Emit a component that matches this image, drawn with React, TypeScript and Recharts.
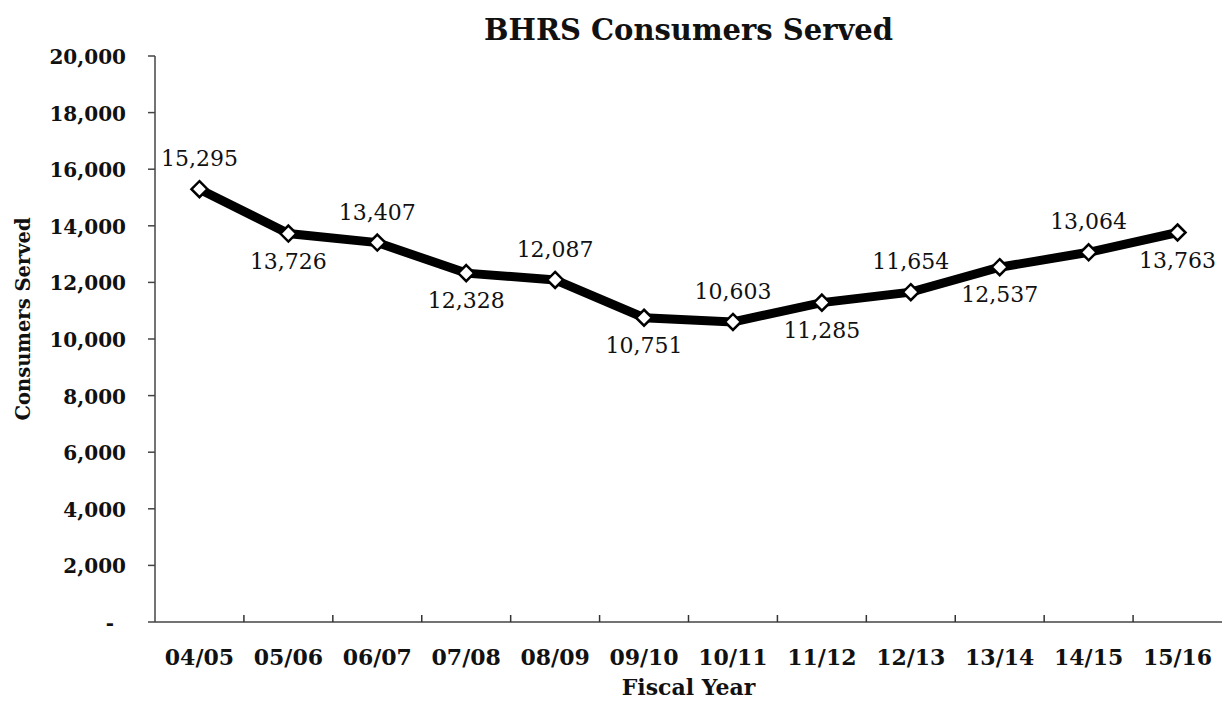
import { LineChart, Line, XAxis, YAxis, LabelList } from "recharts"

const years = ["04/05", "05/06", "06/07", "07/08", "08/09", "09/10", "10/11", "11/12", "12/13", "13/14", "14/15", "15/16"]
const consumers = [15295, 13726, 13407, 12328, 12087, 10751, 10603, 11285, 11654, 12537, 13064, 13763]
const yTicks = [0, 2000, 4000, 6000, 8000, 10000, 12000, 14000, 16000, 18000, 20000]

const data = years.map((year, idx) => ({ idx, year, value: consumers[idx] }))

// label centres on the categories, small upward ticks on the boundaries between them
const xTicks: number[] = []
for (let i = 0; i < years.length; i++) {
  xTicks.push(i)
  if (i < years.length - 1) xTicks.push(i + 0.5)
}

const FONT = "'DejaVu Serif', serif"

function fmt(v: number) {
  return v.toLocaleString("en-US")
}

function XTick(props: any) {
  const { x, y, payload } = props
  const v = payload.value
  if (Number.isInteger(v)) {
    return (
      <text x={x} y={y + 43} textAnchor="middle" fontFamily={FONT} fontWeight="bold" fontSize={22} fill="#111">
        {years[v]}
      </text>
    )
  }
  return <line x1={x} x2={x} y1={y} y2={y - 7} stroke="#333" strokeWidth={1.5} />
}

function YTick(props: any) {
  const { x, y, payload } = props
  const v = payload.value
  return (
    <text x={v === 0 ? x - 12 : x} y={y + 8} textAnchor="end" fontFamily={FONT} fontWeight="bold" fontSize={20} fill="#111">
      {v === 0 ? "-" : fmt(v)}
    </text>
  )
}

function Diamond(props: any) {
  const { cx, cy } = props
  if (cx == null || cy == null) return null
  const r = 8
  return (
    <path
      d={`M${cx},${cy - r} L${cx + r},${cy} L${cx},${cy + r} L${cx - r},${cy} Z`}
      fill="#fff"
      stroke="#000"
      strokeWidth={2.5}
    />
  )
}

function PointLabel(props: any) {
  const { x, y, value, index } = props
  const above = index % 2 === 0
  return (
    <text x={x} y={above ? y - 23 : y + 35} textAnchor="middle" fontFamily={FONT} fontSize={22} fill="#111">
      {fmt(value)}
    </text>
  )
}

export default function App() {
  return (
    <div style={{ position: "absolute", left: 0, top: 0, width: 1222, height: 705, background: "#fff" }}>
      <div
        style={{
          position: "absolute",
          top: 13,
          left: 155,
          width: 1067,
          textAlign: "center",
          fontFamily: FONT,
          fontWeight: "bold",
          fontSize: 29,
          color: "#111",
        }}
      >
        BHRS Consumers Served
      </div>
      <div
        style={{
          position: "absolute",
          top: 674,
          left: 155,
          width: 1067,
          textAlign: "center",
          fontFamily: FONT,
          fontWeight: "bold",
          fontSize: 22,
          color: "#111",
        }}
      >
        Fiscal Year
      </div>
      <div
        style={{
          position: "absolute",
          left: 23,
          top: 319,
          transform: "translate(-50%, -50%) rotate(-90deg)",
          whiteSpace: "nowrap",
          fontFamily: FONT,
          fontWeight: "bold",
          fontSize: 19.5,
          color: "#111",
        }}
      >
        Consumers Served
      </div>
      <LineChart width={1222} height={705} data={data} margin={{ top: 56, right: 0, bottom: 0, left: 0 }}>
        <XAxis
          dataKey="idx"
          type="number"
          domain={[-0.5, 11.5]}
          ticks={xTicks}
          interval={0}
          tick={<XTick />}
          tickLine={false}
          tickSize={0}
          tickMargin={0}
          height={83}
          axisLine={{ stroke: "#444", strokeWidth: 1.5 }}
        />
        <YAxis
          type="number"
          domain={[0, 20000]}
          ticks={yTicks}
          interval={0}
          width={155}
          tick={<YTick />}
          tickSize={7}
          tickMargin={22}
          tickLine={{ stroke: "#444", strokeWidth: 1.5 }}
          axisLine={{ stroke: "#444", strokeWidth: 1.5 }}
        />
        <Line
          dataKey="value"
          stroke="#000"
          strokeWidth={9}
          dot={<Diamond />}
          activeDot={false}
          isAnimationActive={false}
        >
          <LabelList dataKey="value" content={<PointLabel />} />
        </Line>
      </LineChart>
    </div>
  )
}
